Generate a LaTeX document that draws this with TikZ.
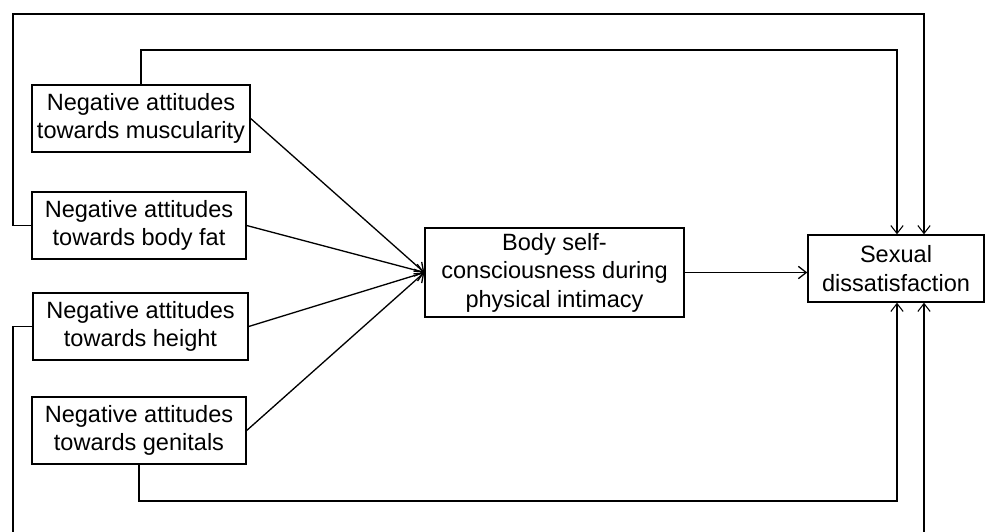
\documentclass[tikz,border=0pt]{standalone}
\usepackage{fontspec}
\setmainfont{Liberation Sans}
\usetikzlibrary{arrows.meta}

\begin{document}
\begin{tikzpicture}[x=0.02cm,y=-0.02cm,
  box/.style={draw,line width=0.8pt,align=center,minimum height=1.34cm,inner sep=0pt,font=\fontsize{13.4}{16.2}\selectfont},
  conn/.style={line width=0.6pt,-{Straight Barb[length=4.5pt,width=7pt]}}]
  \clip (0,0) rectangle (986,531);
  \node[box,minimum width=4.36cm] (musc) at (141,118.5) {Negative attitudes\\towards muscularity};
  \node[box,minimum width=4.28cm] (fat) at (139,225.5) {Negative attitudes\\towards body fat};
  \node[box,minimum width=4.3cm] (hgt) at (140.5,326.5) {Negative attitudes\\towards height};
  \node[box,minimum width=4.28cm] (genit) at (139,430.5) {Negative attitudes\\towards genitals};
  \node[box,minimum width=5.18cm,minimum height=1.78cm] (bsc) at (554.5,272.5) {Body self-\\consciousness during\\physical intimacy};
  \node[box,minimum width=3.52cm] (sexdis) at (896,268.5) {Sexual\\dissatisfaction};
  \coordinate (otop) at (924,14);
  \coordinate (itop) at (897,50);
  \coordinate (ibot) at (897,501);
  \coordinate (obot) at (924,560);
  \draw[conn,line width=0.75pt] (musc.east) -- (bsc.west);
  \draw[conn,line width=0.75pt] (fat.east) -- (bsc.west);
  \draw[conn,line width=0.75pt] (hgt.east) -- (bsc.west);
  \draw[conn,line width=0.75pt] (genit.east) -- (bsc.west);
  \draw[conn,line width=0.75pt] (bsc.east) -- (bsc.east -| sexdis.west);
  \draw[conn] (musc.north) |- (itop) -- (itop |- sexdis.north);
  \draw[conn] (fat.west) -| (13,14) -- (otop) -- (otop |- sexdis.north);
  \draw[conn] (genit.south) |- (ibot) -- (ibot |- sexdis.south);
  \draw[conn] (hgt.west) -| (13,560) -- (obot) -- (obot |- sexdis.south);
\end{tikzpicture}
\end{document}
